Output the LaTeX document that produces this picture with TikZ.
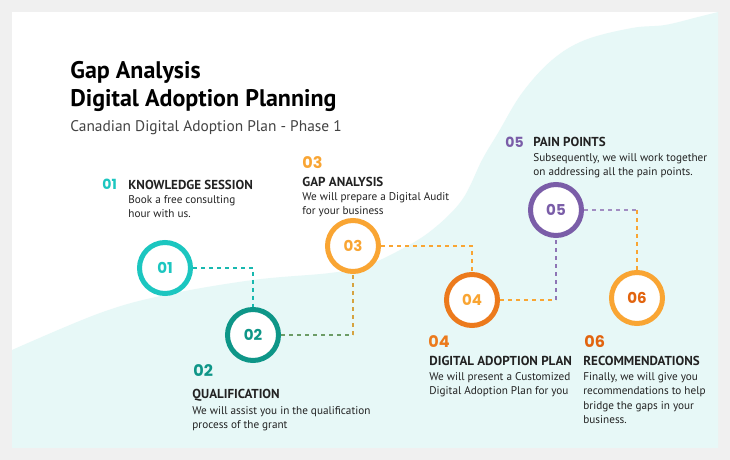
\documentclass[tikz,border=0pt]{standalone}
\usepackage{fontspec}
\setmainfont{PT Sans}
\newfontfamily\numfont{Poppins}
\usetikzlibrary{positioning}
\definecolor{pagebg}{HTML}{F0F0F0}
\definecolor{wash}{HTML}{E7F8F7}
\definecolor{ink}{HTML}{222222}
\definecolor{stepa}{HTML}{1CC6C0}
\definecolor{stepb}{HTML}{0E9688}
\definecolor{stepc}{HTML}{F9A533}
\definecolor{stepd}{HTML}{EC7A1C}
\definecolor{stepe}{HTML}{7A5DA8}
\definecolor{stepf}{HTML}{E2640F}

\begin{document}
\begin{tikzpicture}[
  x=0.5pt, y=-0.5pt,
  ring/.style={circle, draw, line width=2.5pt, fill=white, minimum size=25.5pt,
               inner sep=0pt, font=\numfont\bfseries\fontsize{7.5}{9}\selectfont},
  num/.style={anchor=base west, inner sep=0pt,
              font=\numfont\bfseries\fontsize{8}{9}\selectfont},
  head/.style={anchor=base west, inner sep=0pt, text=ink,
               font=\bfseries\fontsize{6.5}{7}\selectfont},
  body/.style={anchor=north west, inner sep=0pt, align=left, text=ink,
               font=\fontsize{5.6}{7.25}\selectfont},
  dl/.style={line width=0.7pt, dash pattern=on 2pt off 2pt}
]
% --- card and background wash ---
\fill[pagebg] (0,0) rectangle (730,460);
\fill[white] (12,12) rectangle (718,448);
\fill[wash] plot[smooth, tension=0.6] coordinates {(12,350) (100,313) (165,295)
  (253,280) (330,273) (365,266) (400,250) (432,230) (462,200) (482,160)
  (498,133) (522,93) (552,60) (585,40) (632,28) (665,25) (698,17) (718,12)}
  -- (718,448) -- (12,448) -- cycle;

% --- title ---
\node[anchor=base west, inner sep=0pt, align=left, text=black,
      font=\bfseries\fontsize{12}{14}\selectfont] (title) at (70,107)
  {Gap Analysis\\Digital Adoption Planning};
\node[anchor=base west, inner sep=0pt, text=ink!85,
      font=\fontsize{7.7}{9}\selectfont] (sub) at (70,132)
  {Canadian Digital Adoption Plan - Phase 1};

% --- step circles ---
\node[ring, draw=stepa, text=stepa] (c1) at (165,268) {01};
\node[ring, draw=stepb, text=stepb] (c2) at (253,335) {02};
\node[ring, draw=stepc, text=stepc] (c3) at (353,246) {03};
\node[ring, draw=stepd, text=stepc] (c4) at (472,300) {04};
\node[ring, draw=stepe, text=stepe] (c5) at (556,210) {05};
\node[ring, draw=stepc, text=stepf] (c6) at (637,298) {06};

% --- dashed links ---
\coordinate (k2) at (c3.south |- c2.east);
\coordinate (k4) at (c5.south |- c4.east);
\coordinate (k5) at (c6.north |- c5.east);
\draw[dl, stepa!70!stepb] (c1.east) -| (c2.north);
\draw[dl, stepb!60!stepc] (c2.east) -- (k2);
\draw[dl, stepc!85!stepb] (k2) -- (c3.south);
\draw[dl, stepc] (c3.east) -| (c4.north);
\draw[dl, stepc] (c4.east) -- (k4);
\draw[dl, stepe!85!white] (k4) -- (c5.south);
\draw[dl, stepe!70!white] (c5.east) -- (k5);
\draw[dl, stepc] (k5) -- (c6.north);

% --- labels above the path ---
\node[num, text=stepa, font=\numfont\bfseries\fontsize{7}{7}\selectfont] (n1) at (102,190) {01};
\node[head] (h1) at (128,190) {KNOWLEDGE SESSION};
\node[body] (b1) at (128,195) {Book a free consulting\\hour with us.};

\node[num, text=stepc] (n3) at (302,169) {03};
\node[head] (h3) at (302,187) {GAP ANALYSIS};
\node[body] (b3) at (302,192) {We will prepare a Digital Audit\\for your business};

\node[num, text=stepe, font=\numfont\bfseries\fontsize{7}{7}\selectfont] (n5) at (505,148) {05};
\node[head] (h5) at (533,147) {PAIN POINTS};
\node[body] (b5) at (533,153) {Subsequently, we will work together\\on addressing all the pain points.};

% --- labels below the path ---
\node[num, text=stepb] (n2) at (193,377) {02};
\node[head] (h2) at (192,399) {QUALIFICATION};
\node[body] (b2) at (192,406) {We will assist you in the qualification\\process of the grant};

\node[num, text=stepd] (n4) at (428,348) {04};
\node[head] (h4) at (429,366) {DIGITAL ADOPTION PLAN};
\node[body] (b4) at (429,372) {We will present a Customized\\Digital Adoption Plan for you};

\node[num, text=stepf] (n6) at (584,348) {06};
\node[head] (h6) at (583,366) {RECOMMENDATIONS};
\node[body] (b6) at (583,372) {Finally, we will give you\\recommendations to help\\bridge the gaps in your\\business.};
\end{tikzpicture}
\end{document}
